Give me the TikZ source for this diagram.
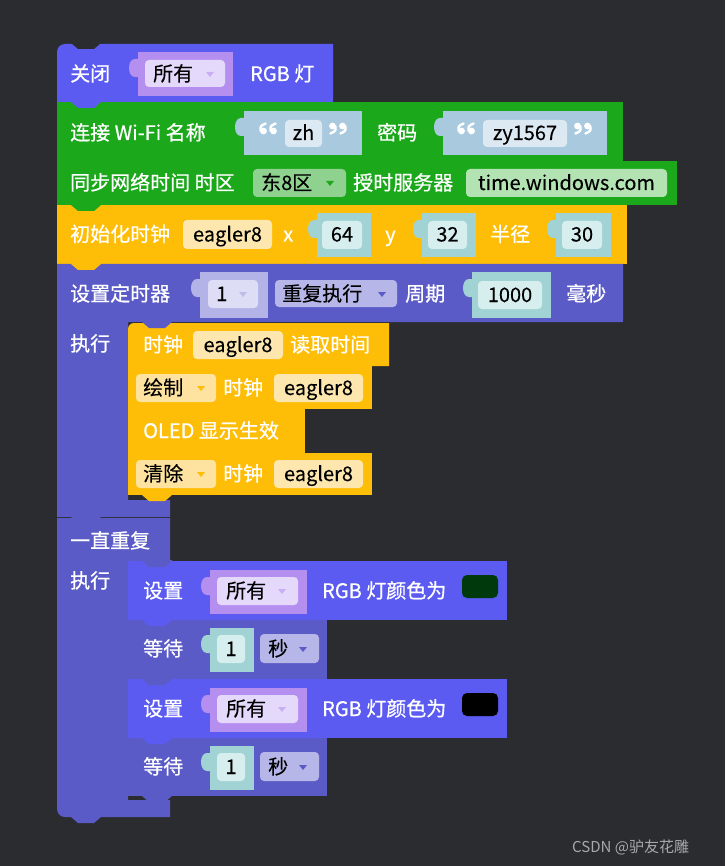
\documentclass[tikz,border=0pt]{standalone}
\usepackage{fontspec}
\setmainfont{Noto Sans CJK SC}
\newfontfamily\lblfont{Noto Sans CJK SC}[FakeBold=0.6]
\newfontfamily\valfont{Noto Sans CJK SC}[FakeBold=0.15]
\definecolor{bgc}{HTML}{2B2C30}
\definecolor{blkc}{HTML}{5B5BF2}
\definecolor{tmrc}{HTML}{5B5BC7}
\definecolor{grnc}{HTML}{1BA81B}
\definecolor{ylwc}{HTML}{FEBE08}
\definecolor{sockP}{HTML}{B58FF0}
\definecolor{fldP}{HTML}{E5D9FB}
\definecolor{arrP}{HTML}{C6AFF3}
\definecolor{sockT}{HTML}{A9C9DE}
\definecolor{fldT}{HTML}{DDE9F2}
\definecolor{sockN}{HTML}{A1D3D4}
\definecolor{fldN}{HTML}{D7EEEF}
\definecolor{sockD}{HTML}{B3B3E7}
\definecolor{fldD}{HTML}{DDDDF6}
\definecolor{arrD}{HTML}{BDBDEA}
\definecolor{fldR}{HTML}{B6B6E8}
\definecolor{fldG}{HTML}{8FD28F}
\definecolor{fldGt}{HTML}{B3E3B3}
\definecolor{fldY}{HTML}{FDE7AE}
\definecolor{fldYd}{HTML}{FEE3A0}
\definecolor{swgrn}{HTML}{003A0C}
\definecolor{markc}{HTML}{A8A8A8}

\begin{document}
\begin{tikzpicture}[x=1pt, y=-1pt,
  lbl/.style={anchor=base west, inner sep=0pt, text=white, font=\lblfont\fontsize{20}{24}\selectfont},
  val/.style={anchor=base, inner sep=0pt, text=black, font=\valfont\fontsize{20}{24}\selectfont},
  ddv/.style={val, anchor=base west},
  qmark/.style={white, line width=2.4pt, line cap=round},
  fld/.style={rounded corners=4pt}
]
\useasboundingbox (0,0) rectangle (725,866);
\fill[bgc] (0,0) rectangle (725,866);

\fill[blkc] (57,102) [rounded corners=8pt] -- (57,44) [sharp corners] -- (333,44) -- (333,102) -- cycle;
\fill[grnc] (57,102) rectangle (623,161);
\fill[grnc] (57,161) rectangle (677,205);
\fill[ylwc] (57,205) rectangle (627,264);
\fill[tmrc] (57,517) -- (57,264) -- (623,264) -- (623,322) -- (128,322) -- (128,500) -- (170,500) -- (170,517) -- cycle;
\fill[ylwc] (128,366) [rounded corners=6pt] -- (128,323) [sharp corners] -- (389,323) -- (389,366) -- cycle;
\fill[ylwc] (128,366) rectangle (372,409);
\fill[ylwc] (128,409) rectangle (305,453);
\fill[ylwc] (128,453) rectangle (372,495);
\fill[tmrc] (57,518) -- (170,518) -- (170,561) -- (128,561) -- (128,800) -- (170,800) -- (170,817) [rounded corners=8pt] -- (57,817) [sharp corners] -- cycle;
\fill[blkc] (128,561) rectangle (507,620);
\fill[tmrc] (128,620) rectangle (327,679);
\fill[blkc] (128,679) rectangle (507,738);
\fill[tmrc] (128,738) rectangle (327,796);

\fill[bgc] (71,43) -- (78,49) -- (94,49) -- (101,43) -- cycle;
\foreach \x/\y/\c in {57/102/blkc, 57/161/grnc, 57/205/grnc, 57/264/ylwc, 128/322/tmrc,
    128/366/ylwc, 128/409/ylwc, 128/453/ylwc, 128/495/ylwc, 57/517/tmrc,
    128/561/tmrc, 128/620/blkc, 128/679/tmrc, 128/738/blkc, 128/796/tmrc, 57/817/tmrc}
  \fill[\c] (\x+14,\y-1) -- (\x+14,\y) -- (\x+21,\y+6) -- (\x+37,\y+6) -- (\x+44,\y) -- (\x+44,\y-1) -- cycle;

\foreach \lx/\ly/\rx/\ry/\lc in {138/52/233/96/sockP, 244/111/362/155/sockT, 443/111/607/155/sockT,
    317/213/371/257/sockN, 422/213/476/257/sockN, 556/213/611/257/sockN,
    200/272/268/318/sockD, 472/272/551/318/sockN,
    210/570/307/614/sockP, 210/628/254/672/sockN, 210/688/307/732/sockP, 210/746/254/790/sockN}
{
  \fill[\lc] (\lx,\ly) rectangle (\rx,\ry);
  \fill[\lc] (\lx+1,\ly+7) -- (\lx-3,\ly+7) .. controls (\lx-11,\ly+7) and (\lx-11,\ly+25) .. (\lx-3,\ly+25) -- (\lx+1,\ly+25) -- cycle;
}

\foreach \ax/\ay/\bx/\by/\fc in {145/60/225/87/fldP, 285/120/322/147/fldT, 483/120/567/147/fldT,
    253/169/346/197/fldG, 466/169/667/197/fldGt,
    183/220/272/249/fldY, 322/221/362/249/fldN, 428/221/467/249/fldN, 562/221/602/249/fldN,
    208/280/258/308/fldD, 275/280/397/307/fldR, 478/281/542/309/fldN,
    193/331/283/359/fldY, 136/374/216/402/fldYd, 274/374/363/402/fldY,
    136/460/216/488/fldYd, 274/460/363/488/fldY,
    217/577/298/605/fldP, 217/635/245/663/fldN, 260/634/319/663/fldR,
    217/695/298/723/fldP, 217/753/245/781/fldN, 260/752/319/781/fldR}
  \fill[\fc, fld] (\ax,\ay) rectangle (\bx,\by);

\fill[swgrn, rounded corners=5pt] (462,575) rectangle (498,598);
\fill[black, rounded corners=5pt] (462,693) rectangle (498,716);

\foreach \ax/\ay/\ac in {210/74/arrP, 330/183/grnc, 243/294/arrD, 382/294/tmrc,
    201/388/ylwc, 201/474/ylwc, 282/591/arrP, 303/649/tmrc, 282/709/arrP, 303/767/tmrc}
  \fill[\ac] (\ax-4,\ay-2) -- (\ax+4,\ay-2) -- (\ax,\ay+3) -- cycle;

\foreach \mx in {263,273,461,471}
{
  \fill[white] (\mx+0.5,131) circle (3.4);
  \draw[qmark] (\mx-2.4,131) .. controls (\mx-2.8,126) .. (\mx+2.6,123.5);
}
\foreach \mx in {333,343,578,588}
{
  \fill[white] (\mx-0.5,126) circle (3.4);
  \draw[qmark] (\mx+2.4,126) .. controls (\mx+2.8,131) .. (\mx-2.6,133.5);
}

\node[lbl] (offlbl) at (70,81) {关闭};
\node[ddv] (alla) at (153,81) {所有};
\node[lbl] (rgba) at (250,81) {RGB 灯};

\node[lbl] (wifilbl) at (70,140) {连接 Wi-Fi 名称};
\node[val] (ssid) at (303.5,140) {zh};
\node[lbl] (pwlbl) at (377,140) {密码};
\node[val] (pw) at (525,140) {zy1567};

\node[lbl] (ntplbl) at (70,190) {同步网络时间 时区};
\node[ddv] (tz) at (261,190) {东8区};
\node[lbl] (srvlbl) at (353,190) {授时服务器};
\node[val] (srv) at (566.5,190) {time.windows.com};

\node[lbl] (initlbl) at (70,241.5) {初始化时钟};
\node[val] (clka) at (227.5,241.5) {eagler8};
\node[lbl] (xlbl) at (283,241.5) {x};
\node[val] (xval) at (342,241.5) {64};
\node[lbl] (ylbl) at (385,241.5) {y};
\node[val] (yval) at (447.5,241.5) {32};
\node[lbl] (rlbl) at (490,241.5) {半径};
\node[val] (rval) at (582,241.5) {30};

\node[lbl] (tmrlbl) at (70,301) {设置定时器};
\node[ddv] (tid) at (216,301) {1};
\node[ddv] (mode) at (282,301) {重复执行};
\node[lbl] (perlbl) at (405,301) {周期};
\node[val] (per) at (510,302) {1000};
\node[lbl] (mslbl) at (566,301) {毫秒};
\node[lbl] (doa) at (70,351) {执行};

\node[lbl] (rdlbl) at (143,352) {时钟};
\node[val] (clkb) at (238,352) {eagler8};
\node[lbl] (rdtail) at (290,352) {读取时间};
\node[ddv] (draw) at (143,395) {绘制};
\node[lbl] (drlbl) at (223,395) {时钟};
\node[val] (clkc) at (318.5,395) {eagler8};
\node[lbl] (oled) at (143,438) {OLED 显示生效};
\node[ddv] (clr) at (143,481) {清除};
\node[lbl] (clrlbl) at (223,481) {时钟};
\node[val] (clkd) at (318.5,481) {eagler8};

\node[lbl] (loop) at (70,548) {一直重复};
\node[lbl] (dob) at (70,588) {执行};

\node[lbl] (seta) at (143,598) {设置};
\node[ddv] (allb) at (226,598) {所有};
\node[lbl] (rgbb) at (322,598) {RGB 灯颜色为};
\node[lbl] (waita) at (143,656) {等待};
\node[val] (wa) at (231,656) {1};
\node[ddv] (seca) at (268,656) {秒};
\node[lbl] (setb) at (143,716) {设置};
\node[ddv] (allc) at (226,716) {所有};
\node[lbl] (rgbc) at (322,716) {RGB 灯颜色为};
\node[lbl] (waitb) at (143,774) {等待};
\node[val] (wb) at (231,774) {1};
\node[ddv] (secb) at (268,774) {秒};

\node[anchor=base west, inner sep=0pt, text=markc, font=\fontsize{15}{18}\selectfont] (mark) at (572,852) {CSDN @驴友花雕};
\end{tikzpicture}
\end{document}
